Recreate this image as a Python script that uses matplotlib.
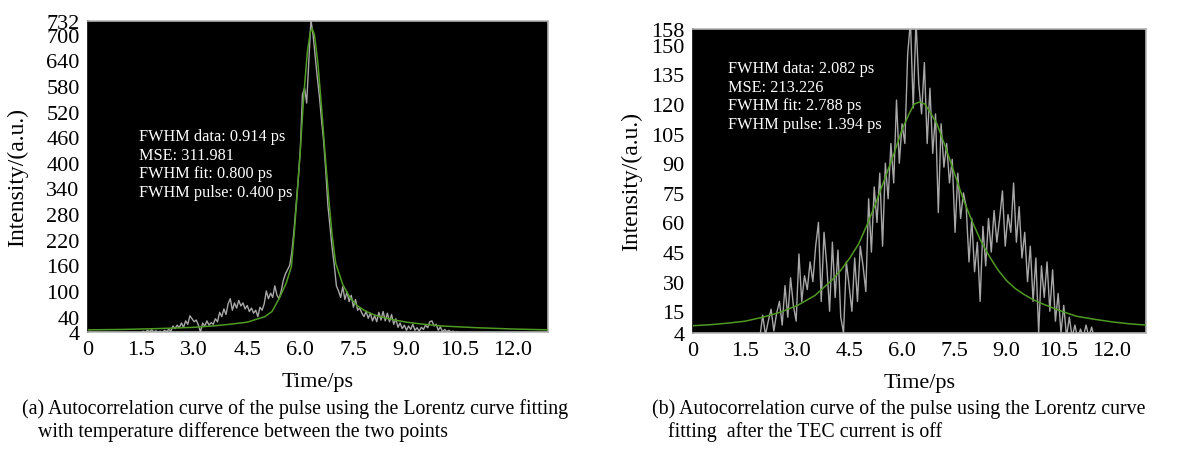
import numpy as np
import matplotlib
matplotlib.use("Agg")
import matplotlib.pyplot as plt

plt.rcParams['font.family'] = ['Liberation Serif', 'DejaVu Serif']

# ---------------- Panel (a) ----------------
a_x_start, a_x_step = 1.5, 0.06
a_data = [2, 6, 3, 8, 5, 9, 4, 7, 3, 6,
          2, 8, 5, 10, 6, 18, 12, 20, 14, 25,
          15, 30, 22, 42, 35, 28, 32, 20, 4, 25,
          18, 30, 20, 26, 22, 35, 28, 50, 40, 58,
          45, 70, 82, 55, 72, 60, 78, 65, 72, 58,
          66, 52, 60, 48, 55, 40, 62, 55, 70, 100,
          82, 95, 85, 112, 90, 82, 100, 125, 140, 150,
          160, 190, 240, 300, 360, 430, 560, 575, 540, 640,
          735, 700, 650, 600, 555, 500, 450, 380, 300, 250,
          200, 160, 112, 100, 85, 110, 80, 98, 75, 90,
          62, 80, 55, 60, 48, 40, 52, 36, 48, 30,
          42, 28, 50, 32, 52, 30, 48, 28, 45, 22,
          35, 15, 25, 12, 20, 8, 18, 10, 22, 8,
          14, 6, 15, 10, 20, 14, 28, 30, 18, 22,
          8, 16, 4, 10, 5, 8, 3, 6, 2, 5, 1]
a_fit_x = [0, 1, 2, 3, 3.5, 4, 4.5, 5.0, 5.2, 5.4, 5.6, 5.75, 5.83, 5.9, 6.0,
           6.1, 6.2, 6.28, 6.33, 6.4, 6.5, 6.6, 6.7, 6.8, 6.9, 7.0, 7.2, 7.4,
           7.6, 7.8, 8.0, 8.2, 8.6, 9.0, 9.5, 10, 11, 12, 13]
a_fit_y = [9, 10, 12, 15, 18, 22, 27, 40, 52, 82, 118, 158, 237, 315, 430,
           560, 660, 705, 715, 700, 630, 530, 420, 320, 230, 165, 115, 85,
           66, 55, 47, 41, 33, 27, 22, 18, 14, 11, 9]
a_yticks = [4, 40, 100, 160, 220, 280, 340, 400, 460, 520, 580, 640, 700, 732]
a_text = ["FWHM data: 0.914 ps", "MSE: 311.981", "FWHM fit: 0.800 ps",
          "FWHM pulse: 0.400 ps"]
a_caption = ["(a) Autocorrelation curve of the pulse using the Lorentz curve fitting",
             "with temperature difference between the two points"]

# ---------------- Panel (b) ----------------
b_x_start, b_x_step = 1.92, 0.08
b_data = [2, 13, 3, 10, 16, 5, 14, 20, 8, 28,
          12, 32, 18, 10, 44, 20, 33, 26, 40, 30,
          48, 60, 20, 55, 38, 15, 50, 22, 46, 12,
          4, 40, 28, 15, 42, 20, 48, 38, 25, 72,
          45, 78, 60, 85, 48, 90, 72, 100, 80, 122,
          90, 110, 100, 145, 162, 118, 162, 130, 115, 141,
          100, 128, 95, 115, 65, 110, 88, 100, 80, 92,
          55, 85, 62, 75, 68, 40, 62, 35, 50, 20,
          58, 38, 62, 45, 66, 50, 62, 76, 48, 64,
          55, 80, 50, 68, 42, 55, 30, 48, 20, 42,
          4, 38, 22, 40, 15, 36, 10, 24, 4, 18,
          2, 12, 2, 8, 1, 6, 2, 8, 2, 7, 1]
b_fit_x = [0, 0.5, 1.0, 1.5, 2.0, 2.5, 3.0, 3.5, 4.0, 4.25, 4.5, 4.75, 5.0, 5.25,
           5.5, 5.75, 6.0, 6.2, 6.35, 6.5, 6.65, 6.8, 7.0, 7.25, 7.5, 7.75, 8.0,
           8.25, 8.5, 8.75, 9.0, 9.25, 9.5, 9.75, 10.0, 10.5, 11.0, 11.5, 12.0,
           12.5, 13.0]
b_fit_y = [7.7, 8.2, 9, 10, 12, 14.5, 18, 23, 31, 36, 42, 49, 59, 70,
           82, 94, 107, 115, 120, 121, 120, 116, 110, 98, 85, 72, 61,
           51, 43, 36, 30.5, 26.5, 23.5, 21, 19, 15.5, 12.5, 11, 9.7,
           8.7, 8]
b_yticks = [4, 15, 30, 45, 60, 75, 90, 105, 120, 135, 150, 158]
b_text = ["FWHM data: 2.082 ps", "MSE: 213.226", "FWHM fit: 2.788 ps",
          "FWHM pulse: 1.394 ps"]
b_caption = ["(b) Autocorrelation curve of the pulse using the Lorentz curve",
             "fitting  after the TEC current is off"]

x_ticks = [0, 1.5, 3.0, 4.5, 6.0, 7.5, 9.0, 10.5, 12.0]
x_ticklabels = ["0", "1.5", "3.0", "4.5", "6.0", "7.5", "9.0", "10.5", "12.0"]

W, H = 1194, 452
fig = plt.figure(figsize=(W / 100, H / 100), dpi=100)

DATA_COLOR = '#a8a8a8'
FIT_COLOR = '#4f9a22'
FS_TICK = 16
FS_XLAB = 16
FS_YLAB = 17
FS_CAP = 14.3
FS_NOTE = 11.7


def make_panel(rect, data, x0, dx, fit_x, fit_y, ylim, yticks, texts, tx, ty,
               tstep, ylabel_x):
    ax = fig.add_axes(rect)
    ax.set_facecolor('black')
    xs = x0 + dx * np.arange(len(data))
    ax.plot(xs, data, color=DATA_COLOR, lw=1.0, zorder=2)
    ax.plot(fit_x, fit_y, color=FIT_COLOR, lw=1.1, zorder=3)
    ax.set_xlim(0, 13)
    ax.set_ylim(*ylim)
    ax.set_yticks(yticks)
    ax.set_yticklabels([str(v) for v in yticks])
    ax.set_xticks(x_ticks)
    ax.set_xticklabels(x_ticklabels)
    ax.tick_params(length=0, labelsize=FS_TICK, pad=6)
    for s in ax.spines.values():
        s.set_color('#b4b4b4')
        s.set_linewidth(1.2)
    ax.spines['left'].set_color('black')
    ax.set_xlabel('Time/ps', fontsize=FS_XLAB, labelpad=9)
    ax.set_ylabel('Intensity/(a.u.)', fontsize=FS_YLAB)
    ax.yaxis.set_label_coords(ylabel_x, 0.5)
    for i, t in enumerate(texts):
        ax.text(tx, ty - i * tstep, t, color='white', fontsize=FS_NOTE,
                transform=ax.transAxes, va='center', ha='left')
    return ax


# left panel
make_panel([88 / W, 1 - 333 / H, 460 / W, 311 / H], a_data, a_x_start, a_x_step,
           a_fit_x, a_fit_y, (4, 732), a_yticks, a_text,
           (139 - 88) / 460, 1 - (137 - 22) / 311, 18.7 / 311, -0.13)
# right panel
make_panel([693 / W, 1 - 334 / H, 453 / W, 304 / H], b_data, b_x_start, b_x_step,
           b_fit_x, b_fit_y, (4, 158), b_yticks, b_text,
           (728 - 693) / 453, 1 - (69 - 30) / 304, 18.7 / 304, -0.113)

fig.text(22 / W, 1 - 409 / H, a_caption[0], fontsize=FS_CAP, va='center', ha='left')
fig.text(38 / W, 1 - 432 / H, a_caption[1], fontsize=FS_CAP, va='center', ha='left')
fig.text(652 / W, 1 - 409 / H, b_caption[0], fontsize=FS_CAP, va='center', ha='left')
fig.text(668 / W, 1 - 432 / H, b_caption[1], fontsize=FS_CAP, va='center', ha='left')

fig.savefig('out.png', dpi=100, facecolor='white')
